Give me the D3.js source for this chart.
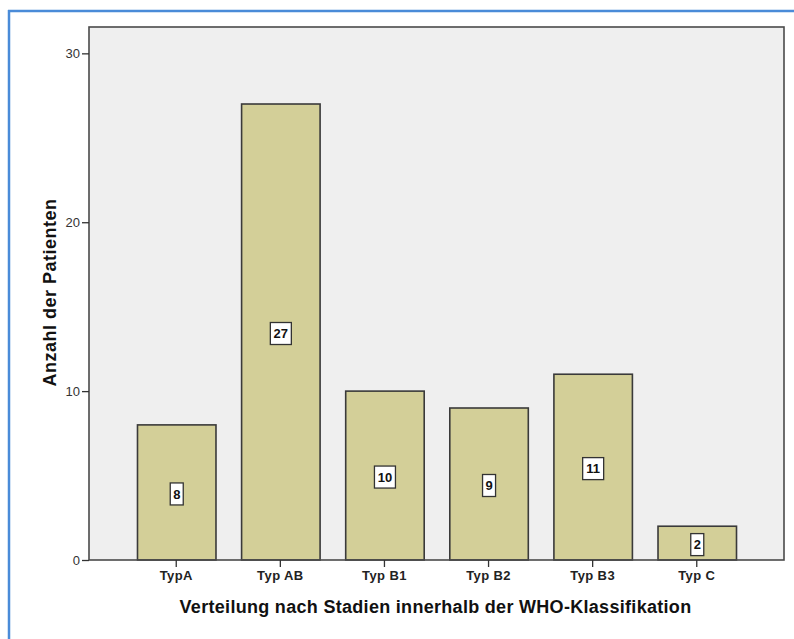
<!DOCTYPE html>
<html>
<head>
<meta charset="utf-8">
<script src="https://cdn.jsdelivr.net/npm/d3@7"></script>
<style>
  html, body { margin: 0; padding: 0; background: #ffffff; }
  svg { display: block; }
</style>
</head>
<body>
<script>
// Patient counts per WHO thymoma stage
const categories = ["TypA", "Typ AB", "Typ B1", "Typ B2", "Typ B3", "Typ C"];
const counts = [8, 27, 10, 9, 11, 2];
const yTicks = [0, 10, 20, 30];
const xTitle = "Verteilung nach Stadien innerhalb der WHO-Klassifikation";
const yTitle = "Anzahl der Patienten";

const W = 794, H = 639;
const plot = { left: 89, right: 784, top: 27, bottom: 560 };
const font = "'Liberation Sans', Arial, sans-serif";

const svg = d3.select("body").append("svg")
  .attr("width", W).attr("height", H);

// frame around the whole figure (top and left edges)
svg.append("line").attr("x1", 8).attr("x2", W).attr("y1", 11).attr("y2", 11)
  .attr("stroke", "#4a8bd8").attr("stroke-width", 2.5);
svg.append("line").attr("x1", 9).attr("x2", 9).attr("y1", 10).attr("y2", H)
  .attr("stroke", "#4a8bd8").attr("stroke-width", 2.5);

const x = d3.scaleBand()
  .domain(categories)
  .range([plot.left, plot.right])
  .paddingInner(0.246)
  .paddingOuter(0.461);

const y = d3.scaleLinear()
  .domain([0, 31.56])
  .range([plot.bottom, plot.top]);

// plot background
svg.append("rect")
  .attr("x", plot.left).attr("y", plot.top)
  .attr("width", plot.right - plot.left).attr("height", plot.bottom - plot.top)
  .attr("fill", "#efefef");

// bars
svg.append("g").selectAll("rect")
  .data(categories)
  .join("rect")
  .attr("x", d => x(d) + 0.5)
  .attr("y", (d, i) => y(counts[i]))
  .attr("width", x.bandwidth())
  .attr("height", (d, i) => y(0) - y(counts[i]))
  .attr("fill", "#d3cf98")
  .attr("stroke", "#3a3a3a")
  .attr("stroke-width", 1.6);

// plot frame
svg.append("rect")
  .attr("x", plot.left).attr("y", plot.top)
  .attr("width", plot.right - plot.left).attr("height", plot.bottom - plot.top)
  .attr("fill", "none")
  .attr("stroke", "#4a4a4a")
  .attr("stroke-width", 1.6);

// y axis
const yAxis = svg.append("g")
  .attr("transform", `translate(${plot.left},0)`)
  .call(d3.axisLeft(y).tickValues(yTicks).tickSize(7).tickPadding(2).tickFormat(d3.format("d")));
yAxis.select(".domain").remove();
yAxis.selectAll(".tick line").attr("stroke", "#333").attr("stroke-width", 1.3);
yAxis.selectAll(".tick text")
  .attr("fill", "#333")
  .style("font-family", font)
  .style("font-size", "13px");

// x axis
const xAxis = svg.append("g")
  .attr("transform", `translate(0,${plot.bottom})`)
  .call(d3.axisBottom(x).tickSize(7).tickPadding(4));
xAxis.select(".domain").remove();
xAxis.selectAll(".tick line").attr("stroke", "#333").attr("stroke-width", 1.3);
xAxis.selectAll(".tick text")
  .attr("fill", "#222")
  .style("font-family", font)
  .style("font-size", "13px")
  .style("letter-spacing", "0.4px")
  .style("font-weight", "bold");

// value labels in white boxes at bar mid-height
const labels = svg.append("g").selectAll("g")
  .data(categories)
  .join("g")
  .attr("transform", (d, i) => `translate(${x(d) + x.bandwidth() / 2 + 0.5},${y(counts[i] / 2) + 1.5})`);
labels.append("rect")
  .attr("x", (d, i) => String(counts[i]).length > 1 ? -10.5 : -6.5)
  .attr("y", -11)
  .attr("width", (d, i) => String(counts[i]).length > 1 ? 21 : 13)
  .attr("height", 22)
  .attr("fill", "#ffffff")
  .attr("stroke", "#333")
  .attr("stroke-width", 1.3);
labels.append("text")
  .attr("text-anchor", "middle")
  .attr("dy", "0.36em")
  .style("font-family", font)
  .style("font-size", "13px")
  .style("font-weight", "bold")
  .attr("fill", "#111")
  .text((d, i) => counts[i]);

// axis titles
svg.append("text")
  .attr("x", (plot.left + plot.right) / 2 - 1)
  .attr("y", 613)
  .attr("text-anchor", "middle")
  .style("font-family", font)
  .style("font-size", "18px")
  .style("letter-spacing", "0.3px")
  .style("font-weight", "bold")
  .attr("fill", "#111")
  .text(xTitle);

svg.append("text")
  .attr("transform", `translate(56,${(plot.top + plot.bottom) / 2 - 1}) rotate(-90)`)
  .attr("text-anchor", "middle")
  .style("font-family", font)
  .style("font-size", "18px")
  .style("letter-spacing", "0.5px")
  .style("font-weight", "bold")
  .attr("fill", "#111")
  .text(yTitle);
</script>
</body>
</html>
